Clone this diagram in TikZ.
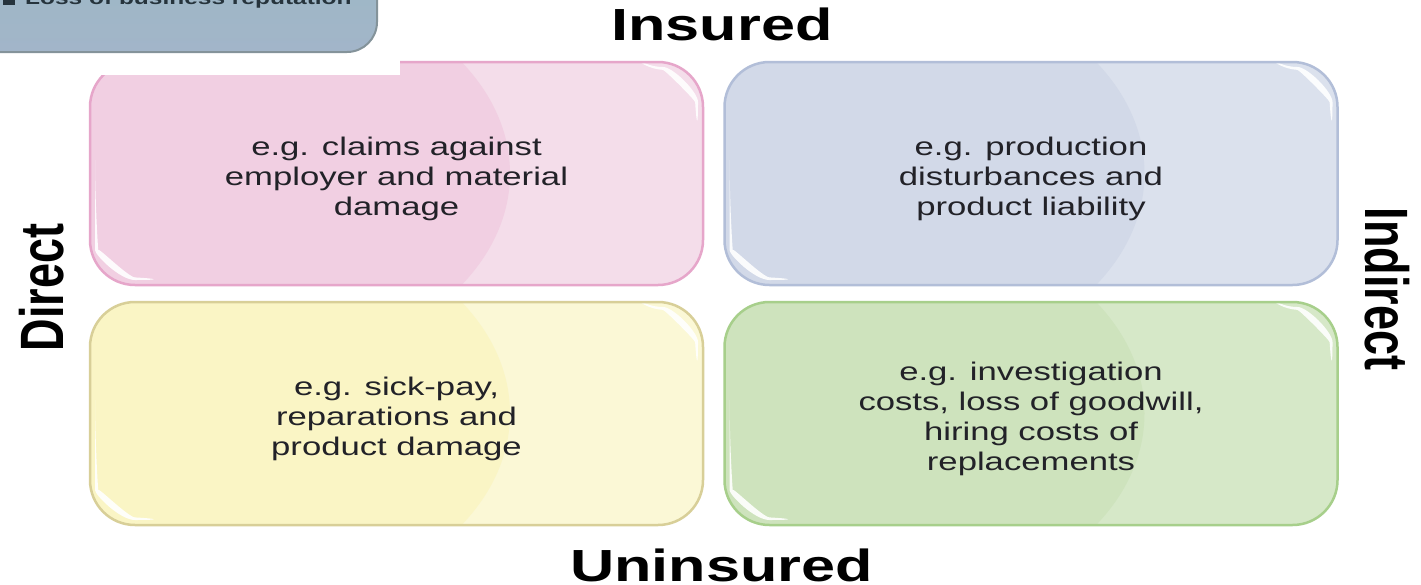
\documentclass[tikz,border=0pt]{standalone}
\usepackage{fontspec}
\setmainfont{Liberation Sans}
\usepackage{graphicx}
\usetikzlibrary{calc}

% quadrant palettes: A = inner (left) tint, B = outer (right) tint, E = edge
\definecolor{pinkA}{HTML}{F1CFE2}\definecolor{pinkB}{HTML}{F4DDEA}\definecolor{pinkE}{HTML}{E6A6CA}
\definecolor{blueA}{HTML}{D2D9E8}\definecolor{blueB}{HTML}{DBE1ED}\definecolor{blueE}{HTML}{B2BED8}
\definecolor{yelA}{HTML}{FAF5C5}\definecolor{yelB}{HTML}{FBF8D6}\definecolor{yelE}{HTML}{D8CF98}
\definecolor{grnA}{HTML}{CEE3BD}\definecolor{grnB}{HTML}{D6E8C8}\definecolor{grnE}{HTML}{A7CF8B}
\definecolor{noteTop}{HTML}{9CB9C4}\definecolor{noteBot}{HTML}{A2B5C9}\definecolor{noteEdge}{HTML}{84939A}
\definecolor{bodytext}{HTML}{222228}
\definecolor{notetext}{HTML}{26343C}

% wide sans text, several centred lines, set a little below the centre
\newcommand\btext[1]{\raisebox{-6pt}[\height][\depth]{\scalebox{1.36}[1]{\begin{tabular}{@{}c@{}}#1\end{tabular}}}}

\tikzset{
  quad/.style={draw=#1E, fill=#1B, line width=2.5pt, rounded corners=45pt,
    minimum width=613pt, minimum height=223pt, inner sep=0pt,
    font=\fontsize{25.5}{30}\selectfont, text=bodytext,
    path picture={
      \fill[#1A] ($(path picture bounding box.west)+(135,0)$)
        ellipse [x radius=285pt, y radius=200pt];
      % glossy highlights in two corners
      \fill[white, opacity=.9]
        ($(path picture bounding box.north east)+(-85,5)$)
        .. controls ($(path picture bounding box.north east)+(-30,5)$)
        and ($(path picture bounding box.north east)+(-5,30)$)
        .. ($(path picture bounding box.north east)+(-5,85)$)
        .. controls ($(path picture bounding box.north east)+(-8,38)$)
        and ($(path picture bounding box.north east)+(-38,8)$)
        .. cycle;
      \fill[white, opacity=.9]
        ($(path picture bounding box.south west)+(5,-80)$)
        .. controls ($(path picture bounding box.south west)+(5,-30)$)
        and ($(path picture bounding box.south west)+(30,-5)$)
        .. ($(path picture bounding box.south west)+(90,-5)$)
        .. controls ($(path picture bounding box.south west)+(38,-8)$)
        and ($(path picture bounding box.south west)+(8,-38)$)
        .. cycle;
    }},
  axislabel/.style={font=\bfseries\fontsize{45}{50}\selectfont, text=black, inner sep=0pt}
}

\begin{document}
\begin{tikzpicture}[x=1pt, y=-1pt]
\clip (0,0) rectangle (1421,584);
\fill[white] (0,0) rectangle (1421,584);

% the four quadrants
\node (insDirect) [quad=pink] at (396.5,173.5)
  {\btext{e.g. claims against\\employer and material\\damage}};
\node (insIndirect) [quad=blue] at (1031,173.5)
  {\btext{e.g. production\\disturbances and\\product liability}};
\node (uninsDirect) [quad=yel] at (396.5,413.5)
  {\btext{e.g. sick-pay,\\reparations and\\product damage}};
\node (uninsIndirect) [quad=grn] at (1031,413.5)
  {\btext{e.g. investigation\\costs, loss of goodwill,\\hiring costs of\\replacements}};

% white strip over the top left corner of the first quadrant
\fill[white] (0,40) rectangle (400,75);

% note box at the top left
\node (note) [draw=noteEdge, line width=2pt, top color=noteTop, bottom color=noteBot,
  rounded corners=30pt, minimum width=420pt, minimum height=113pt, anchor=south east,
  inner sep=0pt] at (378,53) {};
\node (bullet) [fill=notetext, minimum size=12pt, inner sep=0pt] at (9,-1) {};
\node (noteText) [anchor=base west, inner sep=0pt, text=notetext] at (25,4)
  {\scalebox{1.36}[1]{\fontsize{18}{22}\selectfont\bfseries Loss of business reputation}};

% axis labels
\node (insured) [axislabel, anchor=base] at (722,40) {\scalebox{1.36}[1]{Insured}};
\node (uninsured) [axislabel, anchor=base] at (721.5,581) {\scalebox{1.36}[1]{Uninsured}};
\node (direct) [axislabel, rotate=90, anchor=base] at (63,287.5) {\scalebox{1}[1.36]{Direct}};
\node (indirect) [axislabel, rotate=-90, anchor=base] at (1365,289) {\scalebox{1}[1.36]{Indirect}};
\end{tikzpicture}
\end{document}
